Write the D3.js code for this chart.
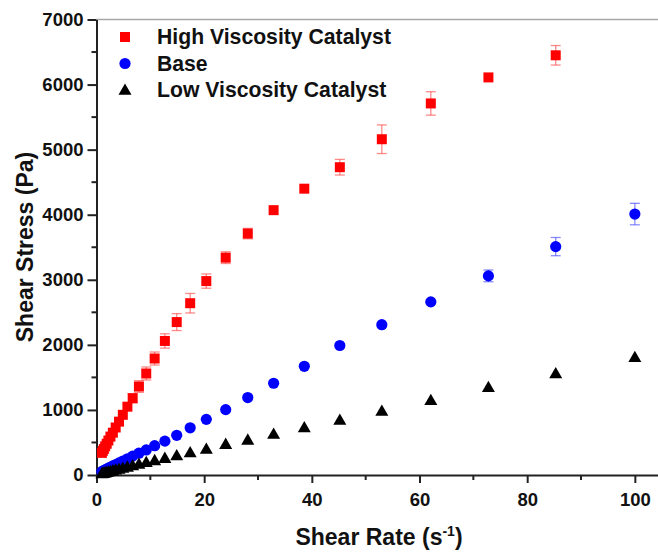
<!DOCTYPE html>
<html>
<head>
<meta charset="utf-8">
<script src="https://cdn.jsdelivr.net/npm/d3@7"></script>
<style>
  html, body { margin: 0; padding: 0; background: #ffffff; }
  svg { display: block; }
  text { font-family: "Liberation Sans", Arial, sans-serif; font-weight: bold; fill: #111; }
</style>
</head>
<body>
<svg id="chart" width="658" height="553"></svg>
<script>
// ---- data ----
const shearRate = [1.0, 1.17, 1.37, 1.61, 1.89, 2.21, 2.59, 3.04, 3.56, 4.18, 4.89, 5.74, 6.72, 7.88, 9.24, 10.8, 12.7, 14.9, 17.4, 20.4, 24.0, 28.1, 32.9, 38.6, 45.2, 53.0, 62.1, 72.8, 85.3, 100];
const highVisc = [340, 370, 400, 440, 480, 530, 590, 650, 730, 820, 925, 1050, 1180, 1360, 1560, 1790, 2060, 2350, 2640, 2980, 3340, 3710, 4070, 4400, 4730, 5160, 5710, 6110, 6450];
const highViscErr = [30, 30, 30, 30, 30, 30, 40, 40, 40, 50, 50, 50, 70, 90, 100, 100, 110, 130, 150, 110, 90, 80, 40, 50, 120, 220, 180, 40, 150];
const base = [52, 60, 68, 78, 90, 105, 120, 140, 160, 185, 215, 250, 290, 335, 385, 450, 520, 610, 725, 855, 1005, 1190, 1410, 1670, 1990, 2310, 2660, 3060, 3510, 4010];
const baseErr = [5, 5, 5, 5, 5, 5, 5, 5, 5, 5, 5, 5, 10, 10, 10, 10, 10, 15, 15, 20, 20, 20, 25, 30, 30, 50, 60, 90, 140, 165];
const lowVisc = [23, 27, 32, 37, 43, 50, 58, 68, 80, 93, 108, 125, 145, 170, 195, 225, 260, 300, 345, 400, 475, 540, 630, 730, 845, 985, 1150, 1350, 1560, 1810];
const lowViscErr = [2, 2, 2, 2, 2, 2, 2, 2, 2, 2, 3, 3, 3, 4, 4, 5, 5, 6, 6, 8, 8, 10, 10, 12, 12, 15, 15, 20, 20, 25];
const xTicks = [0, 20, 40, 60, 80, 100];
const xMinorTicks = [10, 30, 50, 70, 90];
const yTicks = [0, 1000, 2000, 3000, 4000, 5000, 6000, 7000];
const yMinorTicks = [500, 1500, 2500, 3500, 4500, 5500, 6500];
const seriesNames = ["High Viscosity Catalyst", "Base", "Low Viscosity Catalyst"];
const seriesColors = ["#ff0000", "#0000ff", "#000000"];
const errColors = ["rgba(255,60,60,0.6)", "rgba(60,60,255,0.6)", "rgba(0,0,0,0.6)"];

// ---- layout ----
const svg = d3.select("#chart");
const plotLeft = 96.5, plotRight = 658, plotTop = 19.5, plotBottom = 475;
const x = d3.scaleLinear().domain([0, 104.3]).range([plotLeft, plotRight]);
const y = d3.scaleLinear().domain([0, 7000]).range([plotBottom, plotTop]);

// top frame (light grey)
svg.append("line").attr("x1", plotLeft).attr("x2", plotRight).attr("y1", plotTop).attr("y2", plotTop)
  .attr("stroke", "#a8a8a8").attr("stroke-width", 1.5);

// x axis
const xAxis = svg.append("g").attr("transform", `translate(0,${plotBottom})`)
  .call(d3.axisBottom(x).tickValues(xTicks).tickSize(8).tickSizeOuter(0).tickPadding(10).tickFormat(d3.format("d")));
xAxis.append("g").selectAll("line").data(xMinorTicks).join("line")
  .attr("x1", d => x(d)).attr("x2", d => x(d)).attr("y1", 0).attr("y2", 5)
  .attr("stroke", "#222").attr("stroke-width", 2);

// y axis
const yAxis = svg.append("g").attr("transform", `translate(${plotLeft},0)`)
  .call(d3.axisLeft(y).tickValues(yTicks).tickSize(9).tickSizeOuter(0).tickPadding(4).tickFormat(d3.format("d")));
yAxis.append("g").selectAll("line").data(yMinorTicks).join("line")
  .attr("x1", 0).attr("x2", -5).attr("y1", d => y(d)).attr("y2", d => y(d))
  .attr("stroke", "#222").attr("stroke-width", 2);

svg.selectAll(".domain").attr("stroke", "#222").attr("stroke-width", 2);
svg.selectAll(".tick line").attr("stroke", "#222").attr("stroke-width", 2);
svg.selectAll(".tick text").style("font-size", "18.5px").style("font-weight", "bold")
  .style("font-family", "'Liberation Sans', Arial, sans-serif").attr("fill", "#111");

// axis titles
const xt = svg.append("text").attr("x", 379).attr("y", 545).attr("text-anchor", "middle")
  .style("font-size", "23px");
xt.append("tspan").text("Shear Rate (s");
xt.append("tspan").attr("dy", -9).style("font-size", "14px").text("-1");
xt.append("tspan").attr("dy", 9).text(")");

svg.append("text").attr("transform", "translate(33,247) rotate(-90)").attr("text-anchor", "middle")
  .style("font-size", "23px").text("Shear Stress (Pa)");

// marker shapes
function markerPath(kind) {
  if (kind === 0) return "M-5,-5H5V5H-5Z";
  if (kind === 1) return d3.symbol(d3.symbolCircle, Math.PI * 5.6 * 5.6)();
  return "M0,-6.5L6.5,4.8H-6.5Z";
}

const seriesVals = [highVisc, base, lowVisc];
const seriesErrs = [highViscErr, baseErr, lowViscErr];
const plot = svg.append("g");

seriesVals.forEach((vals, si) => {
  const pts = vals.map((v, i) => ({ xv: shearRate[i], yv: v, e: seriesErrs[si][i] }));
  const g = plot.append("g");
  const eb = g.append("g").attr("stroke", errColors[si]).attr("stroke-width", 1.3);
  pts.forEach(p => {
    const cx = x(p.xv), y1 = y(p.yv + p.e), y2 = y(p.yv - p.e);
    if (y2 - y1 < 8) return;
    eb.append("line").attr("x1", cx).attr("x2", cx).attr("y1", y1).attr("y2", y2);
    eb.append("line").attr("x1", cx - 5).attr("x2", cx + 5).attr("y1", y1).attr("y2", y1);
    eb.append("line").attr("x1", cx - 5).attr("x2", cx + 5).attr("y1", y2).attr("y2", y2);
  });
  g.selectAll("path.m").data(pts).join("path").attr("class", "m")
    .attr("d", markerPath(si))
    .attr("transform", d => `translate(${x(d.xv)},${y(d.yv)})`)
    .attr("fill", seriesColors[si]);
});

// legend
const legend = svg.append("g");
seriesNames.forEach((name, i) => {
  const ly = 37 + i * 26.5;
  legend.append("path").attr("d", markerPath(i)).attr("transform", `translate(125,${ly})`).attr("fill", seriesColors[i]);
  legend.append("text").attr("x", 157).attr("y", ly + 7).style("font-size", "21.2px").text(name);
});
</script>
</body>
</html>
